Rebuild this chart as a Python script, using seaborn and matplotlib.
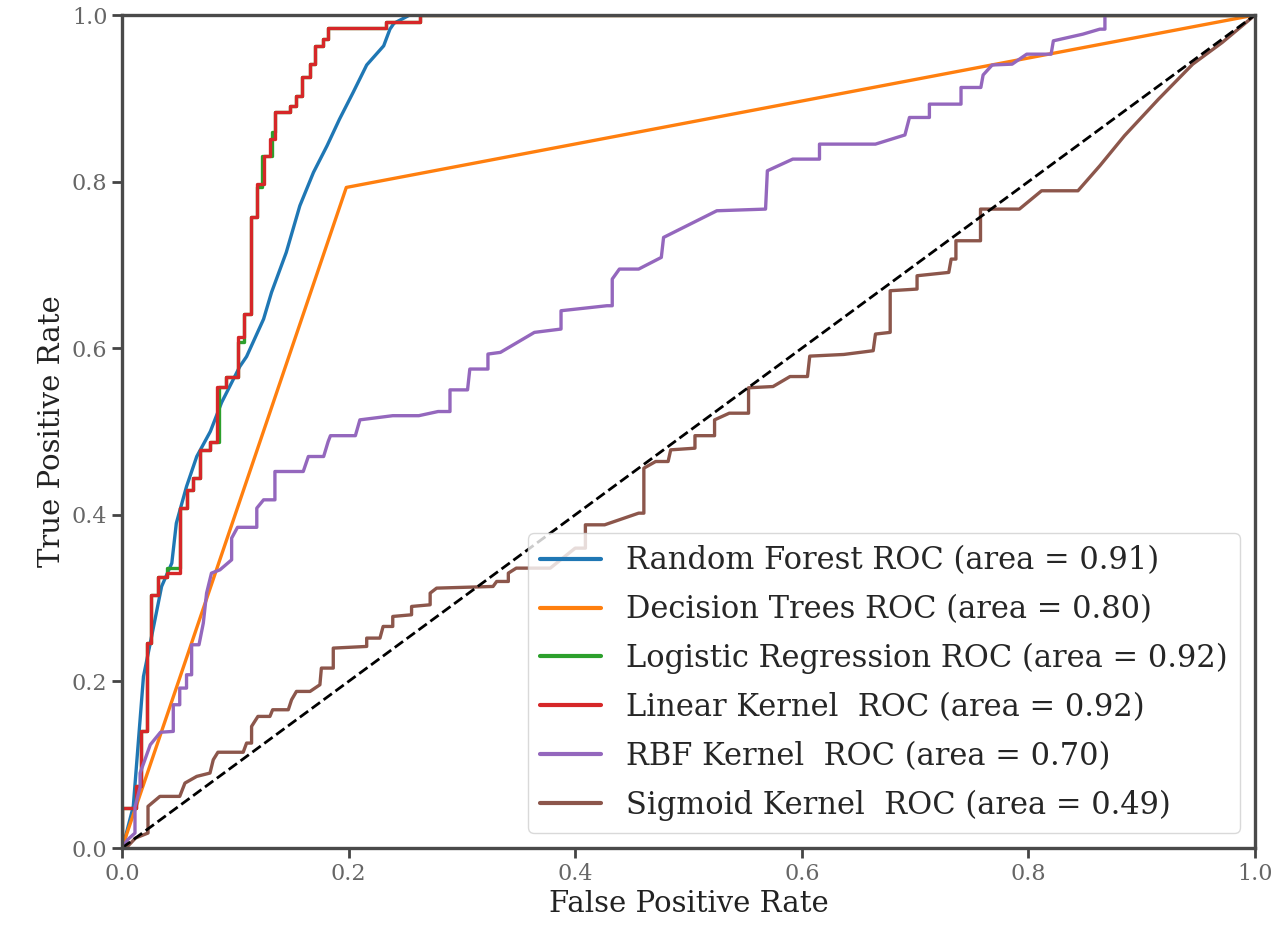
import matplotlib
matplotlib.use("Agg")
import matplotlib.pyplot as plt
import seaborn as sns

# ROC curve corner points (fpr, tpr)
# step curves: tpr jumps up at each fpr value (steps-post)
rf_fpr = [0, 0.003, 0.010, 0.019, 0.025, 0.035, 0.044, 0.048, 0.057, 0.066, 0.078, 0.088,
          0.104, 0.110, 0.125, 0.132, 0.145, 0.157, 0.169, 0.181, 0.192, 0.204, 0.216,
          0.231, 0.2365, 0.240, 0.254, 1.0]
rf_tpr = [0, 0.013, 0.050, 0.206, 0.246, 0.314, 0.342, 0.390, 0.434, 0.470, 0.500, 0.535,
          0.578, 0.590, 0.635, 0.667, 0.715, 0.771, 0.811, 0.843, 0.875, 0.907, 0.940,
          0.963, 0.983, 0.990, 1.0, 1.0]

dt_fpr = [0, 0.198, 1.0]
dt_tpr = [0, 0.793, 1.0]

lr_fpr = [0, 0, 0.012, 0.017, 0.022, 0.026, 0.032, 0.040, 0.051, 0.057, 0.063, 0.069, 0.078,
          0.086, 0.092, 0.102, 0.108, 0.114, 0.119, 0.124, 0.132, 0.135, 0.148, 0.154, 0.159,
          0.166, 0.170, 0.177, 0.182, 0.233, 0.263, 1.0]
lr_tpr = [0, 0.048, 0.074, 0.140, 0.246, 0.304, 0.325, 0.336, 0.408, 0.430, 0.444, 0.478, 0.488,
          0.554, 0.566, 0.608, 0.641, 0.757, 0.793, 0.831, 0.859, 0.883, 0.891, 0.903, 0.925,
          0.941, 0.963, 0.971, 0.984, 0.992, 1.0, 1.0]

lin_fpr = [0, 0, 0.012, 0.017, 0.022, 0.026, 0.032, 0.040, 0.051, 0.057, 0.063, 0.069, 0.078,
           0.084, 0.092, 0.102, 0.108, 0.114, 0.119, 0.125, 0.131, 0.135, 0.148, 0.154, 0.159,
           0.166, 0.170, 0.177, 0.182, 0.233, 0.263, 1.0]
lin_tpr = [0, 0.048, 0.074, 0.140, 0.246, 0.304, 0.325, 0.330, 0.408, 0.430, 0.444, 0.478, 0.488,
           0.554, 0.566, 0.613, 0.641, 0.757, 0.797, 0.831, 0.851, 0.883, 0.891, 0.903, 0.925,
           0.941, 0.963, 0.971, 0.984, 0.992, 1.0, 1.0]

rbf_fpr = [0, 0.005, 0.0115, 0.0115, 0.016, 0.016, 0.020, 0.025, 0.034, 0.0453, 0.0453, 0.051,
           0.051, 0.057, 0.057, 0.0615, 0.0615, 0.068, 0.0718, 0.0747, 0.079, 0.0865, 0.0968,
           0.0968, 0.102, 0.119, 0.119, 0.125, 0.135, 0.135, 0.160, 0.1645, 0.178, 0.182, 0.184,
           0.206, 0.210, 0.239, 0.262, 0.279, 0.2895, 0.2895, 0.305, 0.307, 0.323, 0.323, 0.334,
           0.364, 0.3875, 0.3875, 0.428, 0.4327, 0.4327, 0.439, 0.456, 0.476, 0.478, 0.525,
           0.568, 0.5696, 0.592, 0.6156, 0.6156, 0.665, 0.691, 0.695, 0.7126, 0.7126, 0.7405,
           0.7405, 0.758, 0.760, 0.768, 0.7856, 0.7985, 0.820, 0.822, 0.848, 0.863, 0.8675,
           0.8675, 1.0]
rbf_tpr = [0, 0.010, 0.018, 0.049, 0.073, 0.090, 0.105, 0.124, 0.139, 0.140, 0.172, 0.172,
           0.192, 0.192, 0.208, 0.208, 0.244, 0.244, 0.270, 0.306, 0.330, 0.334, 0.346,
           0.372, 0.385, 0.385, 0.408, 0.418, 0.418, 0.452, 0.452, 0.470, 0.470, 0.488, 0.495,
           0.495, 0.514, 0.519, 0.519, 0.524, 0.524, 0.550, 0.550, 0.575, 0.575, 0.593, 0.595,
           0.619, 0.623, 0.645, 0.651, 0.651, 0.683, 0.695, 0.695, 0.709, 0.733, 0.765,
           0.767, 0.813, 0.827, 0.827, 0.845, 0.845, 0.856, 0.877, 0.877, 0.893, 0.893,
           0.913, 0.913, 0.928, 0.940, 0.941, 0.953, 0.953, 0.969, 0.977, 0.983, 0.983,
           1.0, 1.0]

sig_fpr = [0, 0.005, 0.012, 0.023, 0.023, 0.0335, 0.051, 0.0556, 0.066, 0.0777, 0.0806, 0.0847,
           0.107, 0.110, 0.1144, 0.1144, 0.120, 0.1306, 0.133, 0.1468, 0.1497, 0.154, 0.166,
           0.1747, 0.176, 0.1865, 0.1865, 0.216, 0.216, 0.2277, 0.2305, 0.239, 0.239, 0.2556,
           0.2556, 0.272, 0.272, 0.2777, 0.3275, 0.3307, 0.341, 0.341, 0.348, 0.378, 0.400,
           0.409, 0.409, 0.426, 0.456, 0.4606, 0.4606, 0.471, 0.482, 0.4843, 0.5057, 0.5057,
           0.523, 0.523, 0.536, 0.553, 0.553, 0.5746, 0.5896, 0.605, 0.607, 0.637, 0.663,
           0.665, 0.678, 0.678, 0.7017, 0.7017, 0.7297, 0.7318, 0.736, 0.736, 0.7577, 0.7577,
           0.792, 0.8116, 0.8437, 0.863, 0.8847, 0.9148, 0.945, 0.971, 1.0]
sig_tpr = [0, 0.002, 0.012, 0.018, 0.050, 0.062, 0.062, 0.078, 0.086, 0.090, 0.106, 0.115,
           0.115, 0.126, 0.126, 0.146, 0.158, 0.158, 0.166, 0.166, 0.178, 0.188, 0.188,
           0.196, 0.216, 0.216, 0.240, 0.242, 0.252, 0.252, 0.266, 0.266, 0.278, 0.280,
           0.290, 0.292, 0.306, 0.312, 0.314, 0.320, 0.320, 0.330, 0.336, 0.336, 0.360,
           0.360, 0.388, 0.388, 0.402, 0.402, 0.456, 0.464, 0.464, 0.478, 0.480, 0.495,
           0.495, 0.514, 0.522, 0.522, 0.5525, 0.554, 0.566, 0.566, 0.5905, 0.5925, 0.597,
           0.617, 0.619, 0.669, 0.671, 0.687, 0.691, 0.707, 0.707, 0.729, 0.729, 0.767,
           0.767, 0.789, 0.789, 0.819, 0.855, 0.899, 0.941, 0.967, 1.0]

labels = ['Random Forest ROC (area = 0.91)',
          'Decision Trees ROC (area = 0.80)',
          'Logistic Regression ROC (area = 0.92)',
          'Linear Kernel  ROC (area = 0.92)',
          'RBF Kernel  ROC (area = 0.70)',
          'Sigmoid Kernel  ROC (area = 0.49)']

sns.set_style("ticks")
plt.rcParams['font.family'] = ['DejaVu Serif']
colors = sns.color_palette("tab10")

fig = plt.figure(figsize=(12.85, 9.26), dpi=100)
ax = fig.add_axes([0.0949, 0.0842, 0.8818, 0.8996])

lw = 2.4
common = dict(ax=ax, estimator=None, sort=False, linewidth=lw)
sns.lineplot(x=rf_fpr, y=rf_tpr, color=colors[0], label=labels[0], **common)
sns.lineplot(x=dt_fpr, y=dt_tpr, color=colors[1], label=labels[1], **common)
sns.lineplot(x=lr_fpr, y=lr_tpr, color=colors[2], label=labels[2], drawstyle='steps-post', **common)
sns.lineplot(x=lin_fpr, y=lin_tpr, color=colors[3], label=labels[3], drawstyle='steps-post', **common)
sns.lineplot(x=rbf_fpr, y=rbf_tpr, color=colors[4], label=labels[4], **common)
sns.lineplot(x=sig_fpr, y=sig_tpr, color=colors[5], label=labels[5], **common)
ax.plot([0, 1], [0, 1], 'k--', linewidth=2)

ax.set_xlim(0, 1)
ax.set_ylim(0, 1)
ax.set_xticks([0.0, 0.2, 0.4, 0.6, 0.8, 1.0])
ax.set_yticks([0.0, 0.2, 0.4, 0.6, 0.8, 1.0])
ax.set_xlabel('False Positive Rate', fontsize=21, color='#222222')
ax.set_ylabel('True Positive Rate', fontsize=21, color='#222222')
ax.tick_params(axis='both', labelsize=16, labelcolor='#666666', color='#444444',
               length=7, width=2, direction='out')
for side in ['left', 'bottom', 'top', 'right']:
    ax.spines[side].set_visible(True)
    ax.spines[side].set_color('#4a4a4a')
    ax.spines[side].set_linewidth(2.4)

leg = ax.legend(loc='lower right', fontsize=22, framealpha=0.8, labelspacing=0.58)
leg.get_frame().set_edgecolor('#d0d0d0')
for line in leg.get_lines():
    line.set_linewidth(3)

fig.savefig('out.png', dpi=100)
